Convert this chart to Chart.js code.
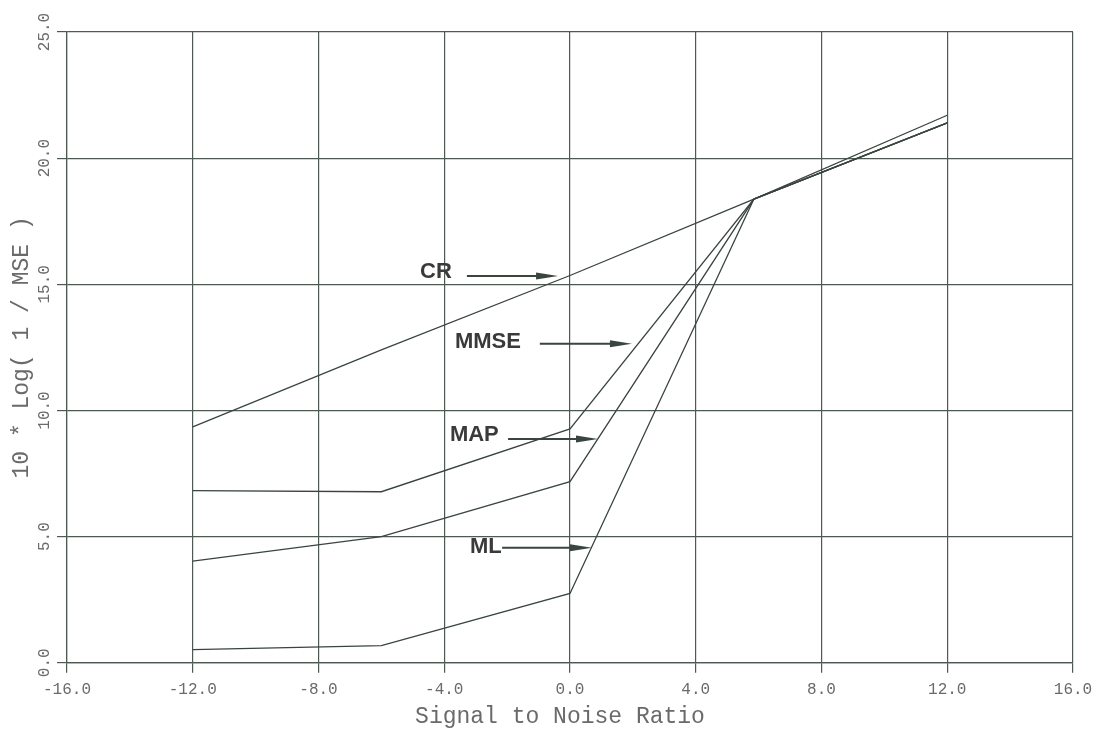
<!DOCTYPE html>
<html>
<head>
<meta charset="utf-8">
<script src="https://cdn.jsdelivr.net/npm/chart.js@4.4.1/dist/chart.umd.min.js"></script>
<style>
  html, body { margin:0; padding:0; background:#fff; }
  #wrap { width:1104px; height:735px; }
</style>
</head>
<body>
<div id="wrap"><canvas id="c" width="1104" height="735"></canvas></div>
<script>
// --- Data ---
const snr  = [-12, -6, 0, 5.85, 12];
const cr   = [9.35, 12.4, 15.35, 18.38, 21.7];
const mmse = [6.82, 6.78, 9.27, 18.38, 21.4];
const map  = [4.03, 5.0, 7.18, 18.38, 21.4];
const ml   = [0.52, 0.68, 2.75, 18.38, 21.4];

// labels + arrows, in data units: [text, textX, textY, arrowFromX, arrowToX, arrowY]
const tags   = ['CR', 'MMSE', 'MAP', 'ML'];
const tagX   = [-4.77, -3.66, -3.82, -3.18];
const tagY   = [15.49, 12.72, 9.03, 4.60];
const arrowA = [-3.28, -0.96, -1.97, -2.16];
const arrowB = [-0.38, 1.97, 0.89, 0.70];
const arrowY = [15.33, 12.64, 8.87, 4.56];

const INK = '#3a453f';
const GRID = '#4d5a52';
const TXT = '#6a6a6a';
const MONO = '"Liberation Mono", "DejaVu Sans Mono", monospace';

const pts = ys => snr.map((x, i) => ({x, y: ys[i]}));
const line = (label, ys) => ({ label, data: pts(ys), borderColor: INK, borderWidth: 1.3, pointRadius: 0, tension: 0, fill: false });

// --- extras: y tick labels, axis titles, arrows ---
const extras = {
  id: 'extras',
  afterDraw(chart) {
    const {ctx, chartArea: a, scales: {x, y}} = chart;
    ctx.save();
    ctx.fillStyle = TXT;
    ctx.textAlign = 'center';
    ctx.textBaseline = 'middle';

    ctx.font = '16px ' + MONO;
    y.ticks.forEach(t => {
      ctx.save();
      ctx.translate(45, y.getPixelForValue(t.value));
      ctx.rotate(-Math.PI / 2);
      ctx.fillText(t.value.toFixed(1), 0, 0);
      ctx.restore();
    });

    ctx.font = '23px ' + MONO;
    ctx.save();
    ctx.translate(22, (a.top + a.bottom) / 2);
    ctx.rotate(-Math.PI / 2);
    ctx.fillText('10 * Log( 1 / MSE )', 0, 0);
    ctx.restore();
    ctx.fillText('Signal to Noise Ratio', 560, 717);

    // callouts
    ctx.font = 'bold 22px "Liberation Sans", Arial, sans-serif';
    ctx.fillStyle = '#3a3a3a';
    ctx.textAlign = 'left';
    ctx.strokeStyle = INK;
    ctx.lineWidth = 2;
    tags.forEach((t, i) => {
      ctx.fillText(t, x.getPixelForValue(tagX[i]), y.getPixelForValue(tagY[i]));
      const x0 = x.getPixelForValue(arrowA[i]), x1 = x.getPixelForValue(arrowB[i]);
      const py = y.getPixelForValue(arrowY[i]);
      ctx.beginPath(); ctx.moveTo(x0, py); ctx.lineTo(x1 - 12, py); ctx.stroke();
      ctx.beginPath();
      ctx.moveTo(x1, py); ctx.lineTo(x1 - 22, py - 3.5); ctx.lineTo(x1 - 22, py + 3.5);
      ctx.closePath();
      ctx.fillStyle = INK; ctx.fill();
      ctx.fillStyle = '#3a3a3a';
    });
    ctx.restore();
  }
};

new Chart(document.getElementById('c'), {
  type: 'line',
  data: { datasets: [line('CR', cr), line('MMSE', mmse), line('MAP', map), line('ML', ml)] },
  options: {
    responsive: false,
    animation: false,
    layout: { padding: { left: 57, top: 32, right: 31, bottom: 29 } },
    plugins: { legend: { display: false }, tooltip: { enabled: false } },
    scales: {
      x: {
        type: 'linear', min: -16, max: 16,
        border: { color: GRID, width: 1.2 },
        grid: { color: GRID, lineWidth: 1.2, tickLength: 10 },
        ticks: { stepSize: 4, padding: 7, color: TXT, font: { family: MONO, size: 16 }, maxRotation: 0, callback: v => v.toFixed(1) }
      },
      y: {
        type: 'linear', min: 0, max: 25,
        border: { color: GRID, width: 1.2 },
        grid: { color: GRID, lineWidth: 1.2, tickLength: 10 },
        ticks: { stepSize: 5, display: false }
      }
    }
  },
  plugins: [extras]
});
</script>
</body>
</html>
